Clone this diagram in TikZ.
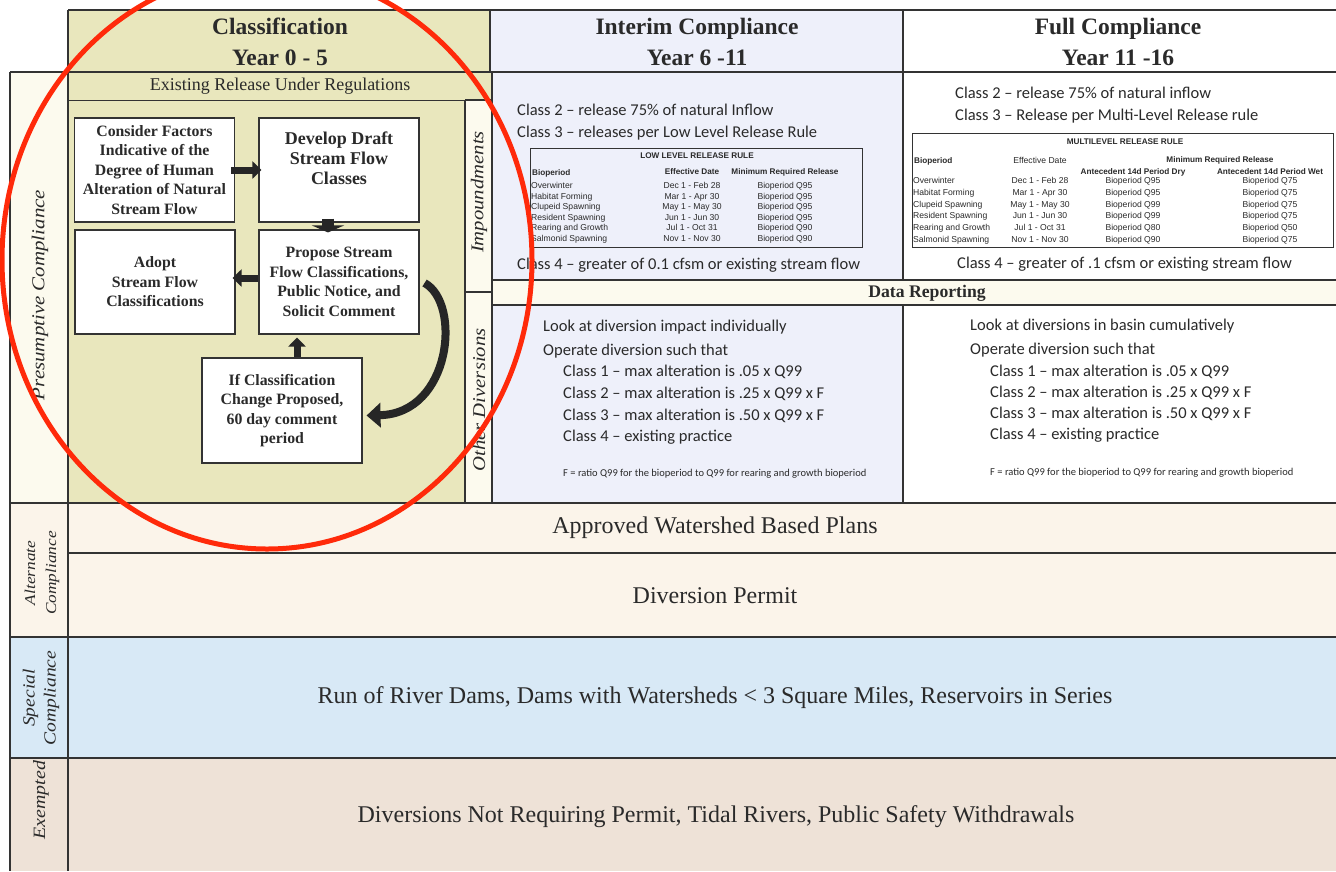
\documentclass[tikz,border=0pt]{standalone}
\usepackage{fontspec}
\setmainfont{Liberation Serif}
\newfontfamily\calib{Carlito}
\newfontfamily\arialf{Liberation Sans}
\newfontfamily\wideit[FakeStretch=1.15]{Liberation Serif Italic}
\usetikzlibrary{arrows.meta,shapes.geometric}
\definecolor{clsbg}{HTML}{E9E7BD}
\definecolor{intbg}{HTML}{EEF0FA}
\definecolor{creambg}{HTML}{FCFAEE}
\definecolor{altbg}{HTML}{FBF4EA}
\definecolor{spbg}{HTML}{D8E9F6}
\definecolor{exbg}{HTML}{EEE2D7}
\definecolor{rule}{HTML}{333333}
\definecolor{txt}{HTML}{2A2A2A}
\definecolor{circ}{HTML}{FF2A0A}
\tikzset{
  grid/.style={draw=rule, line width=1.1pt},
  hdr/.style={font=\bfseries\fontsize{23.5}{31}\selectfont, align=center, text=txt},
  rowtxt/.style={font=\fontsize{24}{28}\selectfont, text=txt},
  sidelab/.style={font=\wideit\fontsize{#1}{#1}\selectfont, align=center, rotate=90, text=txt, inner sep=0pt},
  flowbox/.style={draw=rule, fill=white, line width=1.1pt, minimum width=160pt, minimum height=104pt, inner sep=1pt, align=center, font=\bfseries\fontsize{15.8}{19.5}\selectfont, text=txt},
  flowtext/.style={align=center, font=\bfseries\fontsize{18}{20}\selectfont, text=txt},
  blockarrow/.style={draw=black!85, line width=7pt, -{Triangle[length=9pt,width=17pt]}},
  bodytxt/.style={anchor=west, font=\calib\fontsize{16.5}{18}\selectfont, text=txt, inner sep=0pt},
  foot/.style={anchor=west, font=\calib\fontsize{10.5}{12}\selectfont, text=txt, inner sep=0pt},
  tabbox/.style={draw=rule, line width=0.9pt},
  tabtitle/.style={font=\arialf\bfseries\fontsize{8.2}{9}\selectfont, text=txt, inner sep=0pt},
  tabcol/.style={font=\arialf\fontsize{8.6}{#1}\selectfont, text=txt, inner sep=0pt},
}
\begin{document}
\begin{tikzpicture}[x=1pt,y=-1pt]
\useasboundingbox (0,0) rectangle (1336,871);
\clip (0,0) rectangle (1336,871);
% backgrounds
\fill[white] (0,0) rectangle (1336,871);
\fill[clsbg] (68,10) rectangle (490,72);
\fill[intbg] (490,10) rectangle (903,72);
\fill[creambg] (10,72) rectangle (68,503);
\fill[clsbg] (68,72) rectangle (492,503);
\fill[creambg] (465,100) rectangle (492,503);
\fill[intbg] (492,72) rectangle (903,280);
\fill[creambg] (492,280) rectangle (1336,305);
\fill[intbg] (492,305) rectangle (903,503);
\fill[altbg] (10,503) rectangle (1336,637);
\fill[spbg] (10,637) rectangle (1336,758);
\fill[exbg] (10,758) rectangle (1336,871);
% grid lines
\draw[grid] (68,10) -- (1336,10);
\draw[grid] (10,72) -- (1336,72);
\draw[grid] (68,10) -- (68,871);
\draw[grid] (10,72) -- (10,871);
\draw[grid] (490,10) -- (490,72);
\draw[grid] (903,10) -- (903,280);
\draw[grid] (903,305) -- (903,503);
\draw[grid, line width=0.8pt] (68,100) -- (465,100);
\draw[grid] (465,100) -- (465,503);
\draw[grid] (492,72) -- (492,503);
\draw[grid] (465,100) -- (492,100);
\draw[grid] (465,292) -- (492,292);
\draw[grid] (492,280) -- (1336,280);
\draw[grid] (492,305) -- (1336,305);
\draw[grid] (10,503) -- (1336,503);
\draw[grid] (68,553) -- (1336,553);
\draw[grid] (10,637) -- (1336,637);
\draw[grid] (10,758) -- (1336,758);
% headers
\node[hdr] (h1) at (280,42) {Classification\\Year 0 - 5};
\node[hdr] (h2) at (697,42) {Interim Compliance\\Year 6 -11};
\node[hdr] (h3) at (1118,42) {Full Compliance\\Year 11 -16};
\node[font=\fontsize{18}{20}\selectfont, text=txt] (erur) at (280,86) {Existing Release Under Regulations};
% side labels
\node[sidelab=18.2] (lpc) at (40,295) {Presumptive Compliance};
\node[sidelab=15, align=center, font=\wideit\fontsize{15}{21}\selectfont] (lac) at (42,573) {Alternate\\Compliance};
\node[sidelab=17, font=\wideit\fontsize{17}{21}\selectfont] (lsc) at (41,698) {Special\\Compliance};
\node[sidelab=17.3] (lex) at (41,800) {Exempted};
\node[sidelab=18] (limp) at (479,192) {Impoundments};
\node[sidelab=18] (lod) at (479,400) {Other Diversions};
% flowchart
\node[flowbox] (b1) at (154.5,170) {Consider Factors\\Indicative of the\\Degree of Human\\Alteration of Natural\\Stream Flow};
\node[flowbox] (b2) at (339,170) {};
\node[flowtext] (b2t) at (339,158) {Develop Draft\\Stream Flow\\Classes};
\node[flowbox] (b3) at (155,282) {Adopt\\Stream Flow\\Classifications};
\node[flowbox] (b4) at (339,282) {Propose Stream\\Flow Classifications,\\Public Notice, and\\Solicit Comment};
\node[flowbox, minimum height=105pt] (b5) at (282,410.5) {If Classification\\Change Proposed,\\60 day comment\\period};
\draw[blockarrow] ([xshift=-4pt]b1.east) -- ([xshift=3pt]b2.west);
\draw[draw=black!85, line width=12pt, -{Triangle[length=7pt,width=32pt]}] ([xshift=-11pt,yshift=4pt]b2.south) -- ([xshift=-11pt,yshift=-3pt]b4.north);
\draw[blockarrow] ([yshift=4pt]b4.west) -- ([xshift=-3pt,yshift=4pt]b3.east);
\draw[blockarrow] ([xshift=15pt]b5.north) -- ([xshift=15pt,yshift=-3pt]b5.north |- b4.south);
\draw[draw=black!85, line width=8pt, -{Triangle[length=14pt,width=24pt]}] ([xshift=5pt,yshift=-1pt]b4.east) .. controls +(37,20) and +(85,-2) .. ([xshift=4pt,yshift=-5pt]b5.east);
% interim upper
\node[bodytxt] (i2) at (517,110) {Class 2 –  release 75\% of natural Inflow};
\node[bodytxt] (i3) at (517,133) {Class 3 – releases per Low Level Release Rule};
\node[bodytxt] (i4) at (517,265) {Class 4 – greater of 0.1 cfsm or existing stream flow};
\draw[tabbox] (530,148) rectangle (862,247);
\node[tabtitle] (llt) at (697,156) {LOW LEVEL RELEASE RULE};
\node[tabtitle, anchor=west] (llh1) at (532,173) {Bioperiod};
\node[tabtitle] (llh2) at (692,172) {Effective Date};
\node[tabtitle] (llh3) at (785,172) {Minimum Required Release};
\node[tabcol=10.6, anchor=north west, align=left] (llc1) at (531,182) {Overwinter\\Habitat Forming\\Clupeid Spawning\\Resident Spawning\\Rearing and Growth\\Salmonid Spawning};
\node[tabcol=10.6, anchor=north, align=center] (llc2) at (692,182) {Dec 1 - Feb 28\\Mar 1 - Apr 30\\May 1 - May 30\\Jun 1 - Jun 30\\Jul 1 - Oct 31\\Nov 1 - Nov 30};
\node[tabcol=10.6, anchor=north, align=center] (llc3) at (785,182) {Bioperiod Q95\\Bioperiod Q95\\Bioperiod Q95\\Bioperiod Q95\\Bioperiod Q90\\Bioperiod Q90};
% full upper
\node[bodytxt] (f2) at (955,93) {Class 2 – release 75\% of natural inflow};
\node[bodytxt] (f3) at (955,116) {Class 3 –  Release per Multi-Level Release rule};
\node[bodytxt] (f4) at (957,264) {Class 4 – greater of .1 cfsm or existing stream flow};
\draw[tabbox] (912,133) rectangle (1333,247);
\node[tabtitle] (mlt) at (1125,142) {MULTILEVEL RELEASE RULE};
\node[tabtitle, anchor=west] (mlh1) at (914,161) {Bioperiod};
\node[tabtitle, font=\arialf\fontsize{8.6}{9}\selectfont] (mlh2) at (1040,160) {Effective Date};
\node[tabtitle] (mlh3) at (1220,160) {Minimum Required Release};
\node[tabtitle] (mlh4) at (1133,172) {Antecedent 14d Period Dry};
\node[tabtitle] (mlh5) at (1270,172) {Antecedent 14d Period Wet};
\node[tabcol=11.8, anchor=north west, align=left] (mlc1) at (913,177) {Overwinter\\Habitat Forming\\Clupeid Spawning\\Resident Spawning\\Rearing and Growth\\Salmonid Spawning};
\node[tabcol=11.8, anchor=north, align=center] (mlc2) at (1040,177) {Dec 1 - Feb 28\\Mar 1 - Apr 30\\May 1 - May 30\\Jun 1 - Jun 30\\Jul 1 - Oct 31\\Nov 1 - Nov 30};
\node[tabcol=11.8, anchor=north, align=center] (mlc3) at (1133,177) {Bioperiod Q95\\Bioperiod Q95\\Bioperiod Q99\\Bioperiod Q99\\Bioperiod Q80\\Bioperiod Q90};
\node[tabcol=11.8, anchor=north, align=center] (mlc4) at (1270,177) {Bioperiod Q75\\Bioperiod Q75\\Bioperiod Q75\\Bioperiod Q75\\Bioperiod Q50\\Bioperiod Q75};
% data reporting
\node[font=\bfseries\fontsize{17.7}{19}\selectfont, text=txt] (dr) at (927,293) {Data Reporting};
% interim lower
\node[bodytxt] (il1) at (543,327) {Look at diversion impact individually};
\node[bodytxt] (il2) at (543,351) {Operate diversion such that};
\node[bodytxt] (il3) at (563,372) {Class 1 –  max alteration is .05 x Q99};
\node[bodytxt] (il4) at (563,394) {Class 2 –  max alteration is .25 x Q99 x F};
\node[bodytxt] (il5) at (563,416) {Class 3 –  max alteration is .50 x Q99 x F};
\node[bodytxt] (il6) at (563,437) {Class 4 –  existing practice};
\node[foot] (ifn) at (563,474) {F = ratio Q99 for the bioperiod to Q99 for rearing and growth bioperiod};
% full lower
\node[bodytxt] (fl1) at (970,326) {Look at diversions in basin cumulatively};
\node[bodytxt] (fl2) at (970,350) {Operate diversion such that};
\node[bodytxt] (fl3) at (990,372) {Class 1 –  max alteration is .05 x Q99};
\node[bodytxt] (fl4) at (990,393) {Class 2 –  max alteration is .25 x Q99 x F};
\node[bodytxt] (fl5) at (990,414) {Class 3 –  max alteration is .50 x Q99 x F};
\node[bodytxt] (fl6) at (990,435) {Class 4 –  existing practice};
\node[foot] (ffn) at (990,473) {F = ratio Q99 for the bioperiod to Q99 for rearing and growth bioperiod};
% lower rows
\node[rowtxt] (awbp) at (715,528) {Approved Watershed Based Plans};
\node[rowtxt] (dp) at (715,596) {Diversion Permit};
\node[rowtxt] (sp) at (715,698) {Run of River Dams, Dams with Watersheds < 3 Square Miles, Reservoirs in Series};
\node[rowtxt] (ex) at (716,817) {Diversions Not Requiring Permit, Tidal Rivers, Public Safety Withdrawals};
% red circle
\draw[circ, line width=5pt] (267,260) ellipse [x radius=265, y radius=289];
\end{tikzpicture}
\end{document}
